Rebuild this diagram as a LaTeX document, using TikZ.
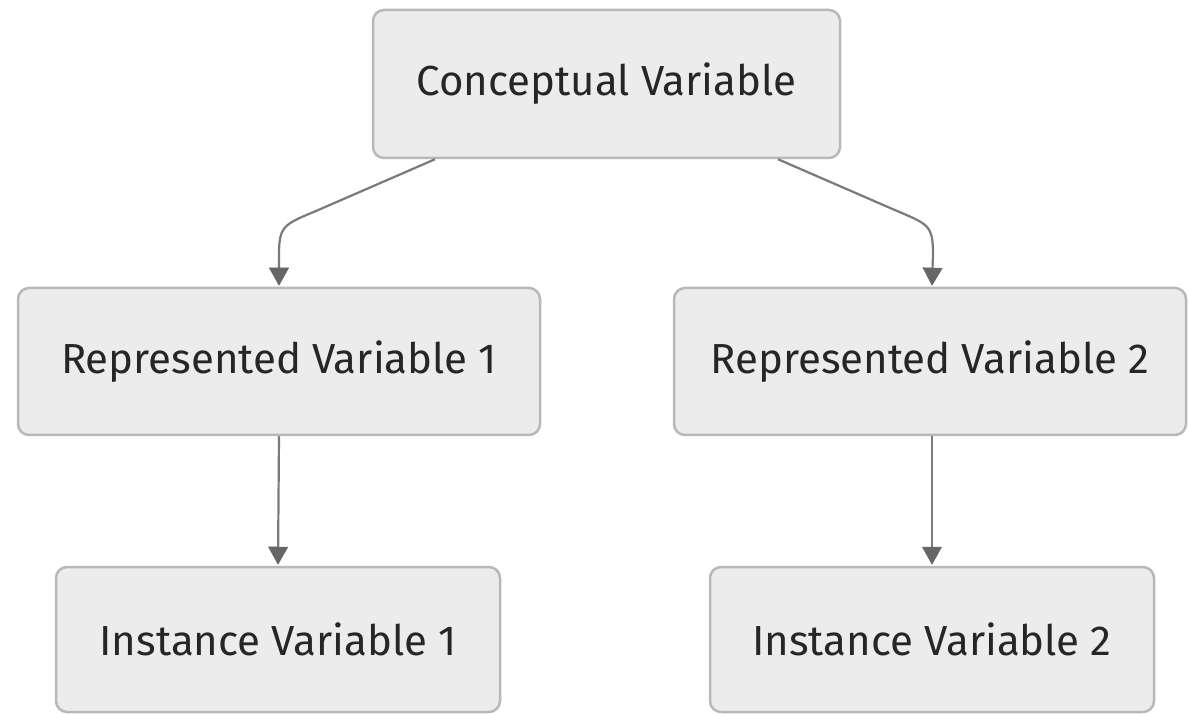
\documentclass[tikz,border=0pt]{standalone}
\usepackage{fontspec}
\setmainfont{Fira Sans}
\usetikzlibrary{arrows.meta,calc}
\definecolor{boxfill}{HTML}{ECECEC}
\definecolor{boxline}{HTML}{B8B8B8}
\definecolor{edgeline}{HTML}{7A7A7A}
\definecolor{tipfill}{HTML}{666666}
\begin{document}
\begin{tikzpicture}[x=1pt,y=1pt,
  vbox/.style={draw=boxline,fill=boxfill,line width=2.5pt,rounded corners=11pt,
    inner sep=0pt,font=\fontsize{42}{46}\selectfont,text=black!85},
  flow/.style={draw=edgeline,line width=2.2pt,
    -{Triangle[length=18pt,width=20pt,color=tipfill,fill=tipfill,line width=0.5pt]}}]
\useasboundingbox (0,0) rectangle (1189,713);
\node[vbox,minimum width=467pt,minimum height=148pt] (C) at (606.5,629) {Conceptual Variable};
\node[vbox,minimum width=522pt,minimum height=147pt] (R1) at (279,351.5) {Represented Variable 1};
\node[vbox,minimum width=512pt,minimum height=147pt] (R2) at (930,351.5) {Represented Variable 2};
\node[vbox,minimum width=444pt,minimum height=145pt] (I1) at (278,73.5) {Instance Variable 1};
\node[vbox,minimum width=444pt,minimum height=145pt] (I2) at (932,73.5) {Instance Variable 2};
\draw[flow] ([xshift=-171.5pt]C.south) -- ++(-115,-50) .. controls ++(-35,-15) and ++(0,30) .. ++(-41,-45) -- ([yshift=1pt]R1.north);
\draw[flow] ([xshift=171.5pt]C.south) -- ++(115,-50) .. controls ++(35,-15) and ++(0,30) .. ++(40,-45) -- ([xshift=2pt,yshift=1pt]R2.north);
\draw[flow] (R1.south) -- ([yshift=1pt]I1.north);
\draw[flow] ([xshift=2pt]R2.south) -- ([yshift=1pt]I2.north);
\end{tikzpicture}
\end{document}
